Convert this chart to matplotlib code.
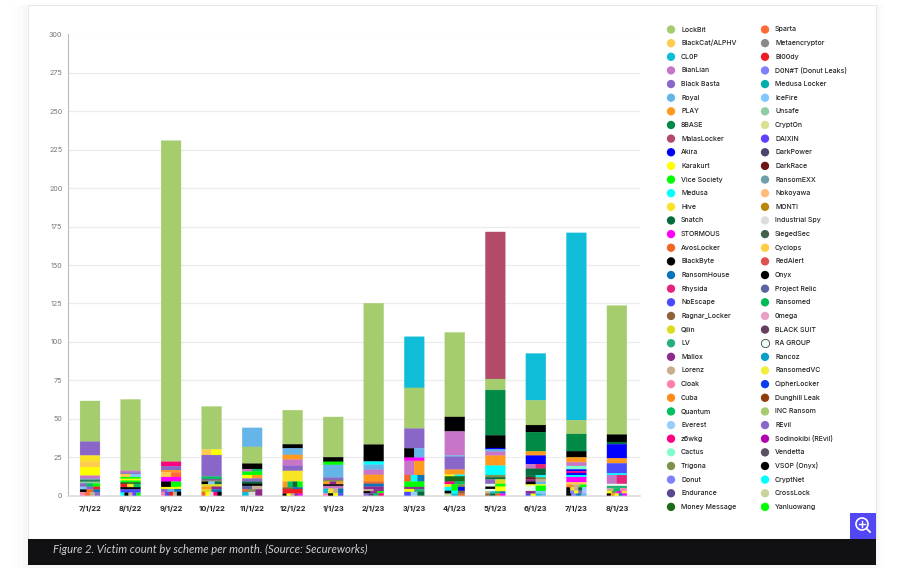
import matplotlib
matplotlib.use("Agg")
import matplotlib.pyplot as plt
from matplotlib.patches import Rectangle, Circle

plt.rcParams['font.family'] = ['Inter', 'DejaVu Sans']

months = ["7/1/22", "8/1/22", "9/1/22", "10/1/22", "11/1/22", "12/1/22", "1/1/23",
          "2/1/23", "3/1/23", "4/1/23", "5/1/23", "6/1/23", "7/1/23", "8/1/23"]
y_ticks = [0, 25, 50, 75, 100, 125, 150, 175, 200, 225, 250, 275, 300]

legend_col1 = ["LockBit", "BlackCat/ALPHV", "CL0P", "BianLian", "Black Basta", "Royal", "PLAY",
               "8BASE", "MalasLocker", "Akira", "Karakurt", "Vice Society", "Medusa", "Hive",
               "Snatch", "STORMOUS", "AvosLocker", "BlackByte", "RansomHouse", "Rhysida",
               "NoEscape", "Ragnar_Locker", "Qilin", "LV", "Mallox", "Lorenz", "Cloak", "Cuba",
               "Quantum", "Everest", "z6wkg", "Cactus", "Trigona", "Donut", "Endurance",
               "Money Message"]
legend_col2 = ["Sparta", "Metaencryptor", "Bl00dy", "D0N#T (Donut Leaks)", "Medusa Locker", "IceFire",
               "Unsafe", "CryptOn", "DAIXIN", "DarkPower", "DarkRace", "RansomEXX", "Nokoyawa",
               "MONTI", "Industrial Spy", "SiegedSec", "Cyclops", "RedAlert", "Onyx",
               "Project Relic", "Ransomed", "0mega", "BLACK SUIT", "RA GROUP", "Rancoz",
               "RansomedVC", "CipherLocker", "Dunghill Leak", "INC Ransom", "REvil",
               "Sodinokibi (REvil)", "Vendetta", "VSOP (Onyx)", "CryptNet", "CrossLock", "Yanluowang"]
colors_col1 = ["#a5cd6e", "#ffcc4d", "#10bdd8", "#c875c8", "#8a66c8", "#66b5e8", "#ff9a1f",
               "#008a45", "#b34a6a", "#0000ff", "#ffff00", "#00ff00", "#00ffff", "#f8e424",
               "#056b3d", "#ff00ff", "#f26522", "#000000", "#0a74ba", "#e5247d",
               "#4a4aff", "#8b6239", "#dcdc1e", "#25b07a", "#8e2a8e", "#c8ad8e", "#ff80b0", "#ff8c1a",
               "#00c060", "#99ccff", "#ff0080", "#80ffcc", "#7d914d", "#8080ff", "#5c4590",
               "#1a6b1a"]
colors_col2 = ["#ff6b35", "#8a8a8a", "#ee1c25", "#8080ff", "#00b0a8", "#80c8ff",
               "#8fcc9f", "#dcdf8f", "#6040ff", "#4a4570", "#6b1515", "#6f9fa8", "#ffbb77",
               "#b8860b", "#dddddd", "#45604a", "#ffcc44", "#e05050", "#000000",
               "#5a64a0", "#00bb55", "#e8a0c8", "#663f5e", "#e8fff0", "#0a9ec8",
               "#f2ef3a", "#0a3cf0", "#8f3c0a", "#a5cd6e", "#8a66c8",
               "#b000b0", "#5a5060", "#000000", "#00ffff", "#c8d49c", "#00ff00"]

# each month, top of the bar first: (count, schemes sharing that band)
jul22 = [(26.5, ["LockBit"]), (9, ["Black Basta"]), (4, ["Hive"]), (3.6, ["BlackCat/ALPHV"]),
         (5.5, ["Karakurt"]), (2, ["BianLian"]), (1, ["RansomEXX"]), (1, ["Snatch"]), (1, ["Unsafe"]),
         (2.3, ["Black Basta", "Quantum", "Vice Society"]), (1.7, ["IceFire", "Black Basta", "Bl00dy"]),
         (1.7, ["BlackByte", "AvosLocker", "RansomHouse"]), (2.2, ["Cloak", "Sparta", "Lorenz", "Black Basta"])]
aug22 = [(46.5, ["LockBit"]), (1, ["BianLian"]), (1, ["Black Basta"]), (2, ["BlackCat/ALPHV", "IceFire"]),
         (1.2, ["Vice Society"]), (1.1, ["Karakurt"]), (1.1, ["Vice Society"]), (1.1, ["Money Message"]),
         (2.1, ["Bl00dy", "Hive", "Quantum"]), (1.4, ["BlackByte"]), (2.2, ["NoEscape"]),
         (1.8, ["Medusa", "BlackByte", "Lorenz", "DAIXIN", "Vice Society"])]
sep22 = [(209, ["LockBit"]), (2.8, ["z6wkg"]), (2.6, ["Black Basta"]), (1.5, ["PLAY"]),
         (3, ["BlackCat/ALPHV", "Sparta"]), (3, ["STORMOUS"]), (3.5, ["BlackByte", "Vice Society"]),
         (1.3, ["Karakurt"]), (1.9, ["Black Basta", "Royal", "RansomHouse"]),
         (2.3, ["Cloak", "NoEscape", "Bl00dy", "Lorenz", "BlackByte"])]
oct22 = [(28, ["LockBit"]), (3.6, ["BlackCat/ALPHV", "Karakurt"]), (14, ["Black Basta"]), (1.8, ["Quantum"]),
         (0.8, ["Mallox"]), (0.7, ["Trigona"]), (1.7, ["BlackByte", "IceFire", "Snatch"]),
         (1.6, ["Qilin"]), (1.7, ["PLAY", "Mallox"]), (1.7, ["Qilin", "RansomHouse"]),
         (2.3, ["AvosLocker", "Karakurt", "Industrial Spy", "z6wkg", "BlackByte"])]
nov22 = [(12.4, ["Royal"]), (10.9, ["LockBit"]), (3.5, ["BlackByte"]), (1.7, ["BianLian", "Quantum"]),
         (2.2, ["Vice Society"]), (2.3, ["Karakurt", "PLAY"]), (2, ["Black Basta"]), (1.4, ["Snatch"]),
         (1.4, ["BlackByte"]), (2.2, ["Project Relic", "Lorenz"]), (1.7, ["AvosLocker", "Trigona", "Mallox"]),
         (2.3, ["CL0P", "Industrial Spy", "Mallox"])]
dec22 = [(22.2, ["LockBit"]), (2.6, ["BlackByte"]), (4.3, ["Royal"]), (3.1, ["PLAY"]), (3.9, ["BianLian"]),
         (3.4, ["Black Basta"]), (7, ["Hive"]), (3.7, ["PLAY", "Quantum", "Snatch", "Vice Society"]),
         (1.1, ["Ragnar_Locker", "RansomHouse"]), (3, ["Bl00dy"]),
         (1.2, ["BlackByte", "Karakurt", "Lorenz", "Mallox", "STORMOUS"])]
jan23 = [(26.2, ["LockBit"]), (3, ["BlackByte"]), (2, ["Vice Society"]), (8.3, ["Royal"]), (1.5, ["Black Basta"]),
         (1.1, ["Trigona"]), (1.7, ["PLAY", "Mallox", "PLAY"]), (1.1, ["BlackByte"]), (1.8, ["BianLian"]),
         (3, ["CL0P", "Hive", "Lorenz", "RansomHouse"]), (1.4, ["Cloak", "BlackByte", "Karakurt", "NoEscape"])]
feb23 = [(92, ["LockBit"]), (11, ["BlackByte"]), (2.1, ["Medusa"]), (3.3, ["Royal"]), (3.3, ["BianLian"]),
         (4.3, ["PLAY"]), (1.5, ["AvosLocker"]), (1.8, ["RansomHouse"]), (1.7, ["Mallox"]),
         (1.3, ["Lorenz", "Mallox"]), (1.4, ["BlackByte", "Mallox", "Vice Society"]),
         (1.4, ["Black Basta", "Endurance", "Quantum", "z6wkg"])]
mar23 = [(33.3, ["CL0P"]), (26.5, ["LockBit"]), (12.8, ["Black Basta"]), (6.1, ["BlackByte", "Royal"]),
         (2.1, ["STORMOUS"]), (9.2, ["BianLian", "PLAY"]), (4.3, ["AvosLocker", "Medusa", "RansomHouse"]),
         (3.5, ["Vice Society"]), (1.3, ["Mallox"]), (1.9, ["Karakurt", "LV"]),
         (2.3, ["NoEscape", "Everest", "Snatch"])]
apr23 = [(55, ["LockBit"]), (9.4, ["BlackByte"]), (15.6, ["BianLian"]), (0.9, ["Royal"]), (8.4, ["Black Basta"]),
         (3.3, ["PLAY"]), (1, ["Karakurt", "Medusa"]), (3.5, ["Money Message"]), (1.7, ["z6wkg", "Quantum"]),
         (1.8, ["Hive", "Vice Society", "Trigona"]), (2.5, ["Medusa", "Vice Society", "Akira"]),
         (1.8, ["BlackByte", "Medusa", "Ragnar_Locker"]), (1.2, ["CrossLock", "CL0P", "AvosLocker"])]
may23 = [(95.7, ["MalasLocker"]), (7.2, ["LockBit"]), (29.5, ["8BASE"]), (8.2, ["BlackByte"]), (0.9, ["Akira"]),
         (1.5, ["Royal"]), (2.6, ["BianLian"]), (6.5, ["PLAY"]), (6.1, ["Medusa"]), (1.4, ["Trigona"]),
         (1.4, ["Snatch"]), (3, ["Black Basta", "Qilin"]), (1.8, ["RA GROUP", "Vice Society"]),
         (1.5, ["BlackByte", "Karakurt"]), (1.5, ["RA GROUP", "Karakurt"]),
         (1.5, ["Lorenz", "CL0P", "Quantum", "RansomHouse"]), (1.2, ["Ragnar_Locker", "Snatch", "AvosLocker", "STORMOUS"])]
jun23 = [(30.5, ["CL0P"]), (16.1, ["LockBit"]), (4.6, ["BlackByte"]), (12.5, ["8BASE"]), (2.7, ["PLAY"]),
         (5.6, ["Akira"]), (3, ["BianLian", "Rhysida"]), (4.2, ["Snatch"]), (1.3, ["Snatch", "Medusa"]),
         (1.5, ["DarkRace", "Trigona"]), (1.5, ["Mallox", "Lorenz"]), (1.7, ["BlackByte", "Royal"]),
         (0.9, ["Karakurt"]), (3.4, ["RA GROUP", "Vice Society"]), (1.8, ["Mallox", "IceFire"]),
         (1.1, ["NoEscape", "Karakurt", "CL0P", "Royal"])]
jul23 = [(121.9, ["CL0P"]), (9, ["LockBit"]), (11.2, ["8BASE"]), (4, ["BlackByte"]), (3.2, ["PLAY"]),
         (2.4, ["BianLian"]), (2.2, ["Cactus"]), (1.2, ["Akira"]), (1.2, ["z6wkg"]), (1.3, ["Akira"]),
         (1.3, ["Medusa"]), (3.4, ["STORMOUS"]), (1.6, ["BlackCat/ALPHV"]), (1.7, ["Cuba", "Lorenz", "Vice Society"]),
         (2.2, ["BlackByte", "Hive", "Lorenz", "Snatch", "Everest"]),
         (1.9, ["BlackByte", "Donut", "Karakurt", "Black Basta", "Everest"]),
         (1.2, ["BlackByte", "Donut", "RansomHouse", "Royal"])]
aug23 = [(84, ["LockBit"]), (4.8, ["BlackByte"]), (1.5, ["Snatch"]), (9.1, ["Akira"]), (3.3, ["PLAY"]),
         (6.5, ["NoEscape"]), (1.1, ["Medusa"]), (5.8, ["BianLian", "Rhysida"]), (1.3, ["RA GROUP"]),
         (1.5, ["LV"]), (1.8, ["Lorenz", "Quantum", "Cloak"]),
         (1.6, ["Karakurt", "Trigona", "STORMOUS", "Hive"]),
         (1.3, ["BlackByte", "PLAY", "Karakurt", "RansomHouse", "STORMOUS"])]
rows_by_month = [jul22, aug22, sep22, oct22, nov22, dec22, jan23, feb23, mar23, apr23, may23, jun23, jul23, aug23]

scheme_color = dict(zip(legend_col1 + legend_col2, colors_col1 + colors_col2))

fig = plt.figure(figsize=(9, 5.68), dpi=100, facecolor="white")

# page furniture, drawn in pixel coordinates
bg = fig.add_axes([0, 0, 1, 1])
bg.set_xlim(0, 900)
bg.set_ylim(568, 0)
bg.axis("off")
for grow, alpha in [(16, 0.006), (10, 0.008), (5, 0.012)]:
    bg.add_patch(Rectangle((27.5 - grow, 5), 848.5 + grow * 1.5, 560 + grow / 2, color="black", alpha=alpha, lw=0))
bg.add_patch(Rectangle((27.5, 5), 848.5, 534, fc="white", ec="#e8e8e8", lw=0.8))
bg.add_patch(Rectangle((27.5, 538.5), 848.5, 26, fc="#111114", lw=0))
bg.text(53, 549.5, "Figure 2. Victim count by scheme per month. (Source: Secureworks)",
        color="#cfcfcf", fontsize=8.1, style="italic", family=["Lato", "DejaVu Sans"], va="center")

# zoom button
bg.add_patch(Rectangle((850, 512.5), 26, 26, fc="#5346f5", lw=0))
bg.add_patch(Circle((862, 524), 6, fc="none", ec="white", lw=1.2))
bg.plot([866.5, 870], [528.5, 532], color="white", lw=1.3)
bg.plot([859, 865], [524, 524], color="white", lw=1)
bg.plot([862, 862], [521, 527], color="white", lw=1)

# legend, two columns of 36
for col_x, names in [(671, legend_col1), (765, legend_col2)]:
    for i, name in enumerate(names):
        y = 29.5 + i * 13.64
        edge = "#444444" if name == "RA GROUP" else "none"
        bg.scatter([col_x], [y], s=36, color=scheme_color[name], edgecolors=edge, linewidths=0.6)
        bg.text(col_x + 10, y, name, fontsize=5.0, color="#222222", va="center", fontweight="medium")

ax = fig.add_axes([68 / 900, 1 - 495.5 / 568, 572 / 900, 461 / 568])
ax.patch.set_alpha(0)
bar_w = 0.49
for m, rows in enumerate(rows_by_month):
    bottom = sum(r[0] for r in rows)
    for value, names in rows:
        bottom -= value
        cell_w = bar_w / len(names)
        for j, name in enumerate(names):
            ax.bar(m - bar_w / 2 + j * cell_w, value, cell_w, bottom=bottom, align="edge",
                   color=scheme_color[name], edgecolor=scheme_color[name], linewidth=0.2,
                   snap=False, zorder=3)

ax.set_xlim(-0.543, 13.57)
ax.set_ylim(0, 300)
ax.set_yticks(y_ticks)
ax.set_xticks(range(len(months)))
ax.set_xticklabels(months, fontsize=5.4, fontweight="bold", color="#222222")
ax.tick_params(axis="y", labelsize=5.2, labelcolor="#777777", length=0, pad=4)
ax.tick_params(axis="x", length=0, pad=7)
ax.grid(axis="y", color="#ececec", lw=0.9, zorder=0)
ax.set_axisbelow(True)
for s in ["top", "right"]:
    ax.spines[s].set_visible(False)
ax.spines["left"].set_color("#bbbbbb")
ax.spines["left"].set_linewidth(0.8)
ax.spines["bottom"].set_color("#dddddd")
ax.spines["bottom"].set_linewidth(1.2)

fig.savefig("out.png", dpi=100)
